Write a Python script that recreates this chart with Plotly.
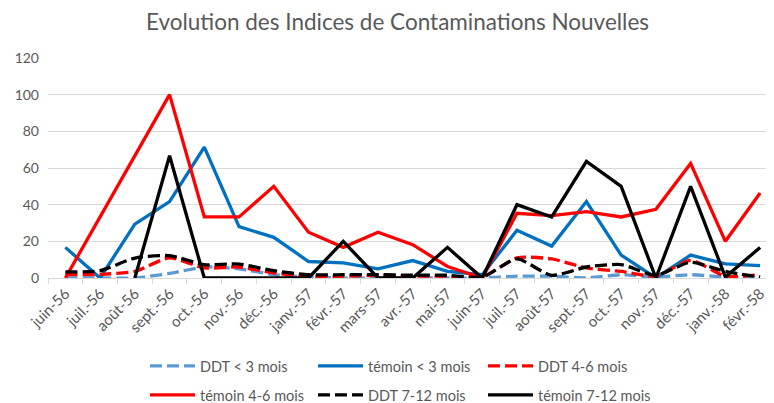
import plotly.graph_objects as go

months = ["juin-56", "juil.-56", "août-56", "sept.-56", "oct.-56", "nov.-56", "déc.-56",
          "janv.-57", "févr.-57", "mars-57", "avr.-57", "mai-57", "juin-57", "juil.-57",
          "août-57", "sept.-57", "oct.-57", "nov.-57", "déc.-57", "janv.-58", "févr.-58"]

ddt_lt3 = [0, 0, 0, 2.5, 6, 5, 1.8, 0.5, 0, 0, 0, 0, 0, 1, 1, 0, 1.8, 0.5, 1.8, 0.5, 0]
temoin_lt3 = [16.7, 0, 29.4, 41.7, 71.4, 28, 22.2, 9, 8.2, 5, 9.5, 3.6, 1.8, 26, 17.4, 41.7, 12.5, 0, 12.5, 7.7, 6.7]
ddt_4_6 = [1.8, 2, 3.6, 11, 5.5, 6, 2.7, 1, 1, 1.5, 1, 1, 0.5, 11, 10.4, 5.5, 3.6, 1, 9.6, 1, 1.8]
temoin_4_6 = [0, 33.3, 66.7, 100, 33.3, 33.3, 50, 25, 16.7, 25, 18.2, 6.3, 0, 35.3, 34, 36.2, 33.3, 37.5, 62.5, 20, 46.4]
ddt_7_12 = [3.3, 4, 10.9, 12.2, 7.3, 7.6, 4, 1.8, 1.8, 1.8, 1.5, 1.5, 0.5, 10.4, 1.4, 6, 7.3, 1.5, 8.6, 3.6, 0.5]
temoin_7_12 = [None, None, 0, 66.7, 0, 0, 0, 0, 20, 0, 0, 16.7, 0, 40, 33.3, 63.6, 50, 0, 50, 0.5, 16.7]

y_ticks = [0, 20, 40, 60, 80, 100, 120]

FONT = "Lato, 'Open Sans', sans-serif"
GREY = "#595959"
DASH = "12px,5px"

# the page body adds an 8px margin, so the figure is sized to the remaining area
W, H = 766, 395

series = [
    ("DDT < 3 mois", ddt_lt3, "#5b9bd5", DASH),
    ("témoin < 3 mois", temoin_lt3, "#0070c0", "solid"),
    ("DDT 4-6 mois", ddt_4_6, "#ff0000", DASH),
    ("témoin 4-6 mois", temoin_4_6, "#ff0000", "solid"),
    ("DDT 7-12 mois", ddt_7_12, "#000000", DASH),
    ("témoin 7-12 mois", temoin_7_12, "#000000", "solid"),
]

# legend slots (figure pixels): x of legend box, y of row centre
legend_slots = [(137, 358), (305, 358), (475, 358), (137, 387), (305, 387), (475, 387)]

fig = go.Figure()
legend_layout = {}
for i, (name, vals, color, dash) in enumerate(series):
    key = "legend" if i == 0 else f"legend{i + 1}"
    fig.add_trace(go.Scatter(
        x=months, y=vals, name=name, mode="lines", legend=key, showlegend=True,
        line=dict(color=color, width=3.3, dash=dash,
                  shape="spline" if dash != "solid" else "linear", smoothing=0.6),
        connectgaps=False,
    ))
    lx, ly = legend_slots[i]
    legend_layout[key] = dict(
        orientation="h", xref="container", yref="container",
        x=lx / W, y=(H - ly) / H, xanchor="left", yanchor="middle",
        font=dict(family=FONT, size=14.5, color=GREY),
        bgcolor="rgba(0,0,0,0)", itemwidth=45, visible=True,
    )

fig.update_layout(
    width=W, height=H, showlegend=True,
    margin=dict(l=40, r=0, t=50, b=125, autoexpand=False),
    paper_bgcolor="white", plot_bgcolor="white",
    title=dict(text="Evolution des Indices de Contaminations Nouvelles",
               x=389.5 / W, xanchor="center", y=(H - 14) / H, yanchor="middle",
               font=dict(family=FONT, size=22.5, color=GREY)),
    font=dict(family=FONT, color=GREY),
    xaxis=dict(
        type="category", categoryorder="array", categoryarray=months,
        range=[-0.5, 20.4], tickangle=-45, automargin=False,
        tickson="boundaries", ticks="outside", ticklen=5, tickcolor="#d9d9d9",
        showline=True, linecolor="#d9d9d9", linewidth=1,
        showgrid=False, tickfont=dict(family=FONT, size=15, color=GREY),
    ),
    yaxis=dict(
        range=[0, 120], tickvals=y_ticks, showgrid=True, gridcolor="#d9d9d9",
        gridwidth=1, zeroline=False, showline=False, ticks="", automargin=False,
        ticklabelstandoff=8, tickfont=dict(family=FONT, size=14, color=GREY),
    ),
    **legend_layout,
)

fig.write_html("out.html")
